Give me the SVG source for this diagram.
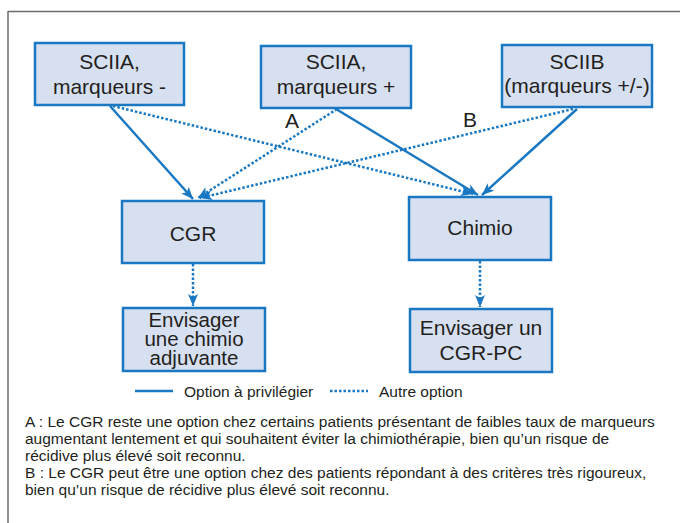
<svg xmlns="http://www.w3.org/2000/svg" width="680" height="523" viewBox="0 0 680 523">
<defs>
<style>
.box{fill:#d7e0f0;stroke:#1a78c2;stroke-width:2.5}
.t{font-family:"Liberation Sans",Arial,sans-serif;font-size:21px;fill:#231f20;text-anchor:middle}
.t2{font-family:"Liberation Sans",Arial,sans-serif;font-size:20.5px;fill:#231f20;text-anchor:middle}
.lab{font-family:"Liberation Sans",Arial,sans-serif;font-size:21px;fill:#231f20;text-anchor:middle}
.leg{font-family:"Liberation Sans",Arial,sans-serif;font-size:15.5px;fill:#231f20}
.note{font-family:"Liberation Sans",Arial,sans-serif;font-size:15.5px;fill:#231f20}
.solid{stroke:#1a78c2;stroke-width:2.5;fill:none}
.dot{stroke:#1a78c2;stroke-width:2.5;fill:none;stroke-dasharray:2.5 2}
</style>
<marker id="ah" viewBox="0 0 12 10" refX="12" refY="5" markerWidth="12" markerHeight="10" markerUnits="userSpaceOnUse" orient="auto">
<path d="M0,0 L12,5 L0,10 L3,5 Z" fill="#1a78c2"/>
</marker>
</defs>
<g id="frame">
<line x1="8" y1="11.5" x2="680" y2="11.5" stroke="#6b6b6b" stroke-width="1.5"/>
<line x1="8" y1="11" x2="8" y2="523" stroke="#6b6b6b" stroke-width="1.5"/>
</g>
<g id="connectors">
<line class="solid" x1="110" y1="106" x2="193" y2="199" marker-end="url(#ah)"/>
<line class="solid" x1="336" y1="109" x2="478" y2="195" marker-end="url(#ah)"/>
<line class="solid" x1="577" y1="109" x2="482" y2="195" marker-end="url(#ah)"/>
<line class="dot" x1="113" y1="106" x2="473" y2="194" marker-end="url(#ah)"/>
<line class="dot" x1="337" y1="109" x2="198" y2="198" marker-end="url(#ah)"/>
<line class="dot" x1="573" y1="109" x2="200" y2="198" marker-end="url(#ah)"/>
<line class="dot" x1="193" y1="264" x2="193" y2="306" marker-end="url(#ah)"/>
<line class="dot" x1="480" y1="261" x2="480" y2="307" marker-end="url(#ah)"/>
<text class="lab" x="292" y="128">A</text>
<text class="lab" x="470" y="127">B</text>
</g>
<g id="n1">
<rect class="box" x="35" y="43" width="149" height="62"/>
<text class="t" x="109.5" y="69">SCIIA,</text>
<text class="t" x="109.5" y="94">marqueurs -</text>
</g>
<g id="n2">
<rect class="box" x="261" y="46" width="150" height="62"/>
<text class="t" x="336" y="69">SCIIA,</text>
<text class="t" x="336" y="94">marqueurs +</text>
</g>
<g id="n3">
<rect class="box" x="502" y="45" width="150" height="62"/>
<text class="t" x="577" y="68.5">SCIIB</text>
<text class="t" x="577" y="93">(marqueurs +/-)</text>
</g>
<g id="n4">
<rect class="box" x="122" y="201" width="142" height="62"/>
<text class="t" x="193" y="241">CGR</text>
</g>
<g id="n5">
<rect class="box" x="409" y="197" width="142" height="63"/>
<text class="t" x="480" y="235">Chimio</text>
</g>
<g id="n6">
<rect class="box" x="123" y="308" width="142" height="63"/>
<text class="t2" x="194" y="326.5">Envisager</text>
<text class="t2" x="194" y="345.5">une chimio</text>
<text class="t2" x="194" y="364.5">adjuvante</text>
</g>
<g id="n7">
<rect class="box" x="410" y="309" width="142" height="63"/>
<text class="t" x="481" y="335">Envisager un</text>
<text class="t" x="481" y="360">CGR-PC</text>
</g>
<g id="legend">
<line class="solid" x1="135" y1="391" x2="173" y2="391"/>
<text class="leg" x="184" y="397">Option à privilégier</text>
<line class="dot" x1="330" y1="391" x2="368" y2="391"/>
<text class="leg" x="379" y="397">Autre option</text>
</g>
<g id="notes">
<text class="note" x="25" y="427">A : Le CGR reste une option chez certains patients présentant de faibles taux de marqueurs</text>
<text class="note" x="25" y="444">augmentant lentement et qui souhaitent éviter la chimiothérapie, bien qu’un risque de</text>
<text class="note" x="25" y="461">récidive plus élevé soit reconnu.</text>
<text class="note" x="25" y="478">B : Le CGR peut être une option chez des patients répondant à des critères très rigoureux,</text>
<text class="note" x="25" y="495">bien qu’un risque de récidive plus élevé soit reconnu.</text>
</g>
</svg>
